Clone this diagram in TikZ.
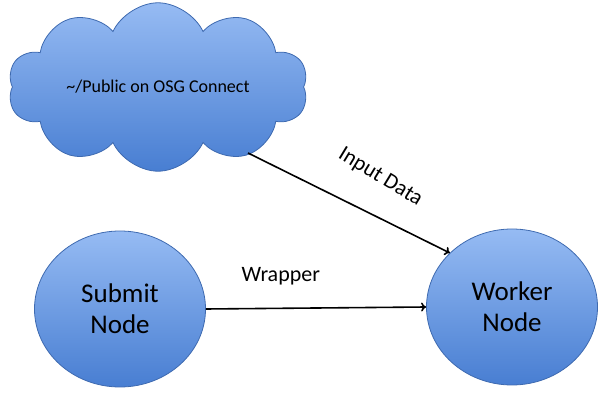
\documentclass[tikz,border=0pt]{standalone}
\usepackage{fontspec}
\setmainfont{Carlito}
\usetikzlibrary{shapes.geometric,shapes.symbols,arrows.meta}
\definecolor{blobtop}{RGB}{150,187,243}
\definecolor{blobbot}{RGB}{72,126,210}
\definecolor{blobline}{RGB}{62,106,176}
\begin{document}
\begin{tikzpicture}[x=1pt,y=-1pt,
  blob/.style={draw=blobline,line width=0.8pt,top color=blobtop,bottom color=blobbot,inner sep=0pt,align=center},
  machine/.style={blob,ellipse,minimum width=171pt,minimum height=156pt,font=\fontsize{27}{31}\selectfont},
  flow/.style={line width=1.6pt,-{To[length=5pt,width=9pt]}},
  flowtext/.style={font=\fontsize{22}{26}\selectfont}]
\useasboundingbox (0,0) rectangle (614,403);

\node[blob,cloud,cloud puffs=10,cloud puff arc=130,aspect=2.1,shape border rotate=8,
  minimum width=300pt,minimum height=146pt,font=\fontsize{18}{22}\selectfont]
  (store) at (158,87) {\textasciitilde/Public on OSG Connect};

\node[machine] (submit) at (120,309) {Submit\\Node};
\node[machine] (worker) at (512,307) {Worker\\Node};

\coordinate (fetch) at (248,153);

\draw[flow] (fetch) -- (worker.139)
  node[flowtext,sloped,rotate=-5,above=24pt,pos=0.56] (inlabel) {Input Data};
\draw[flow] (submit.east) -- (worker.west)
  node[flowtext,above=19pt,pos=0.34] (wraplabel) {Wrapper};
\end{tikzpicture}
\end{document}
